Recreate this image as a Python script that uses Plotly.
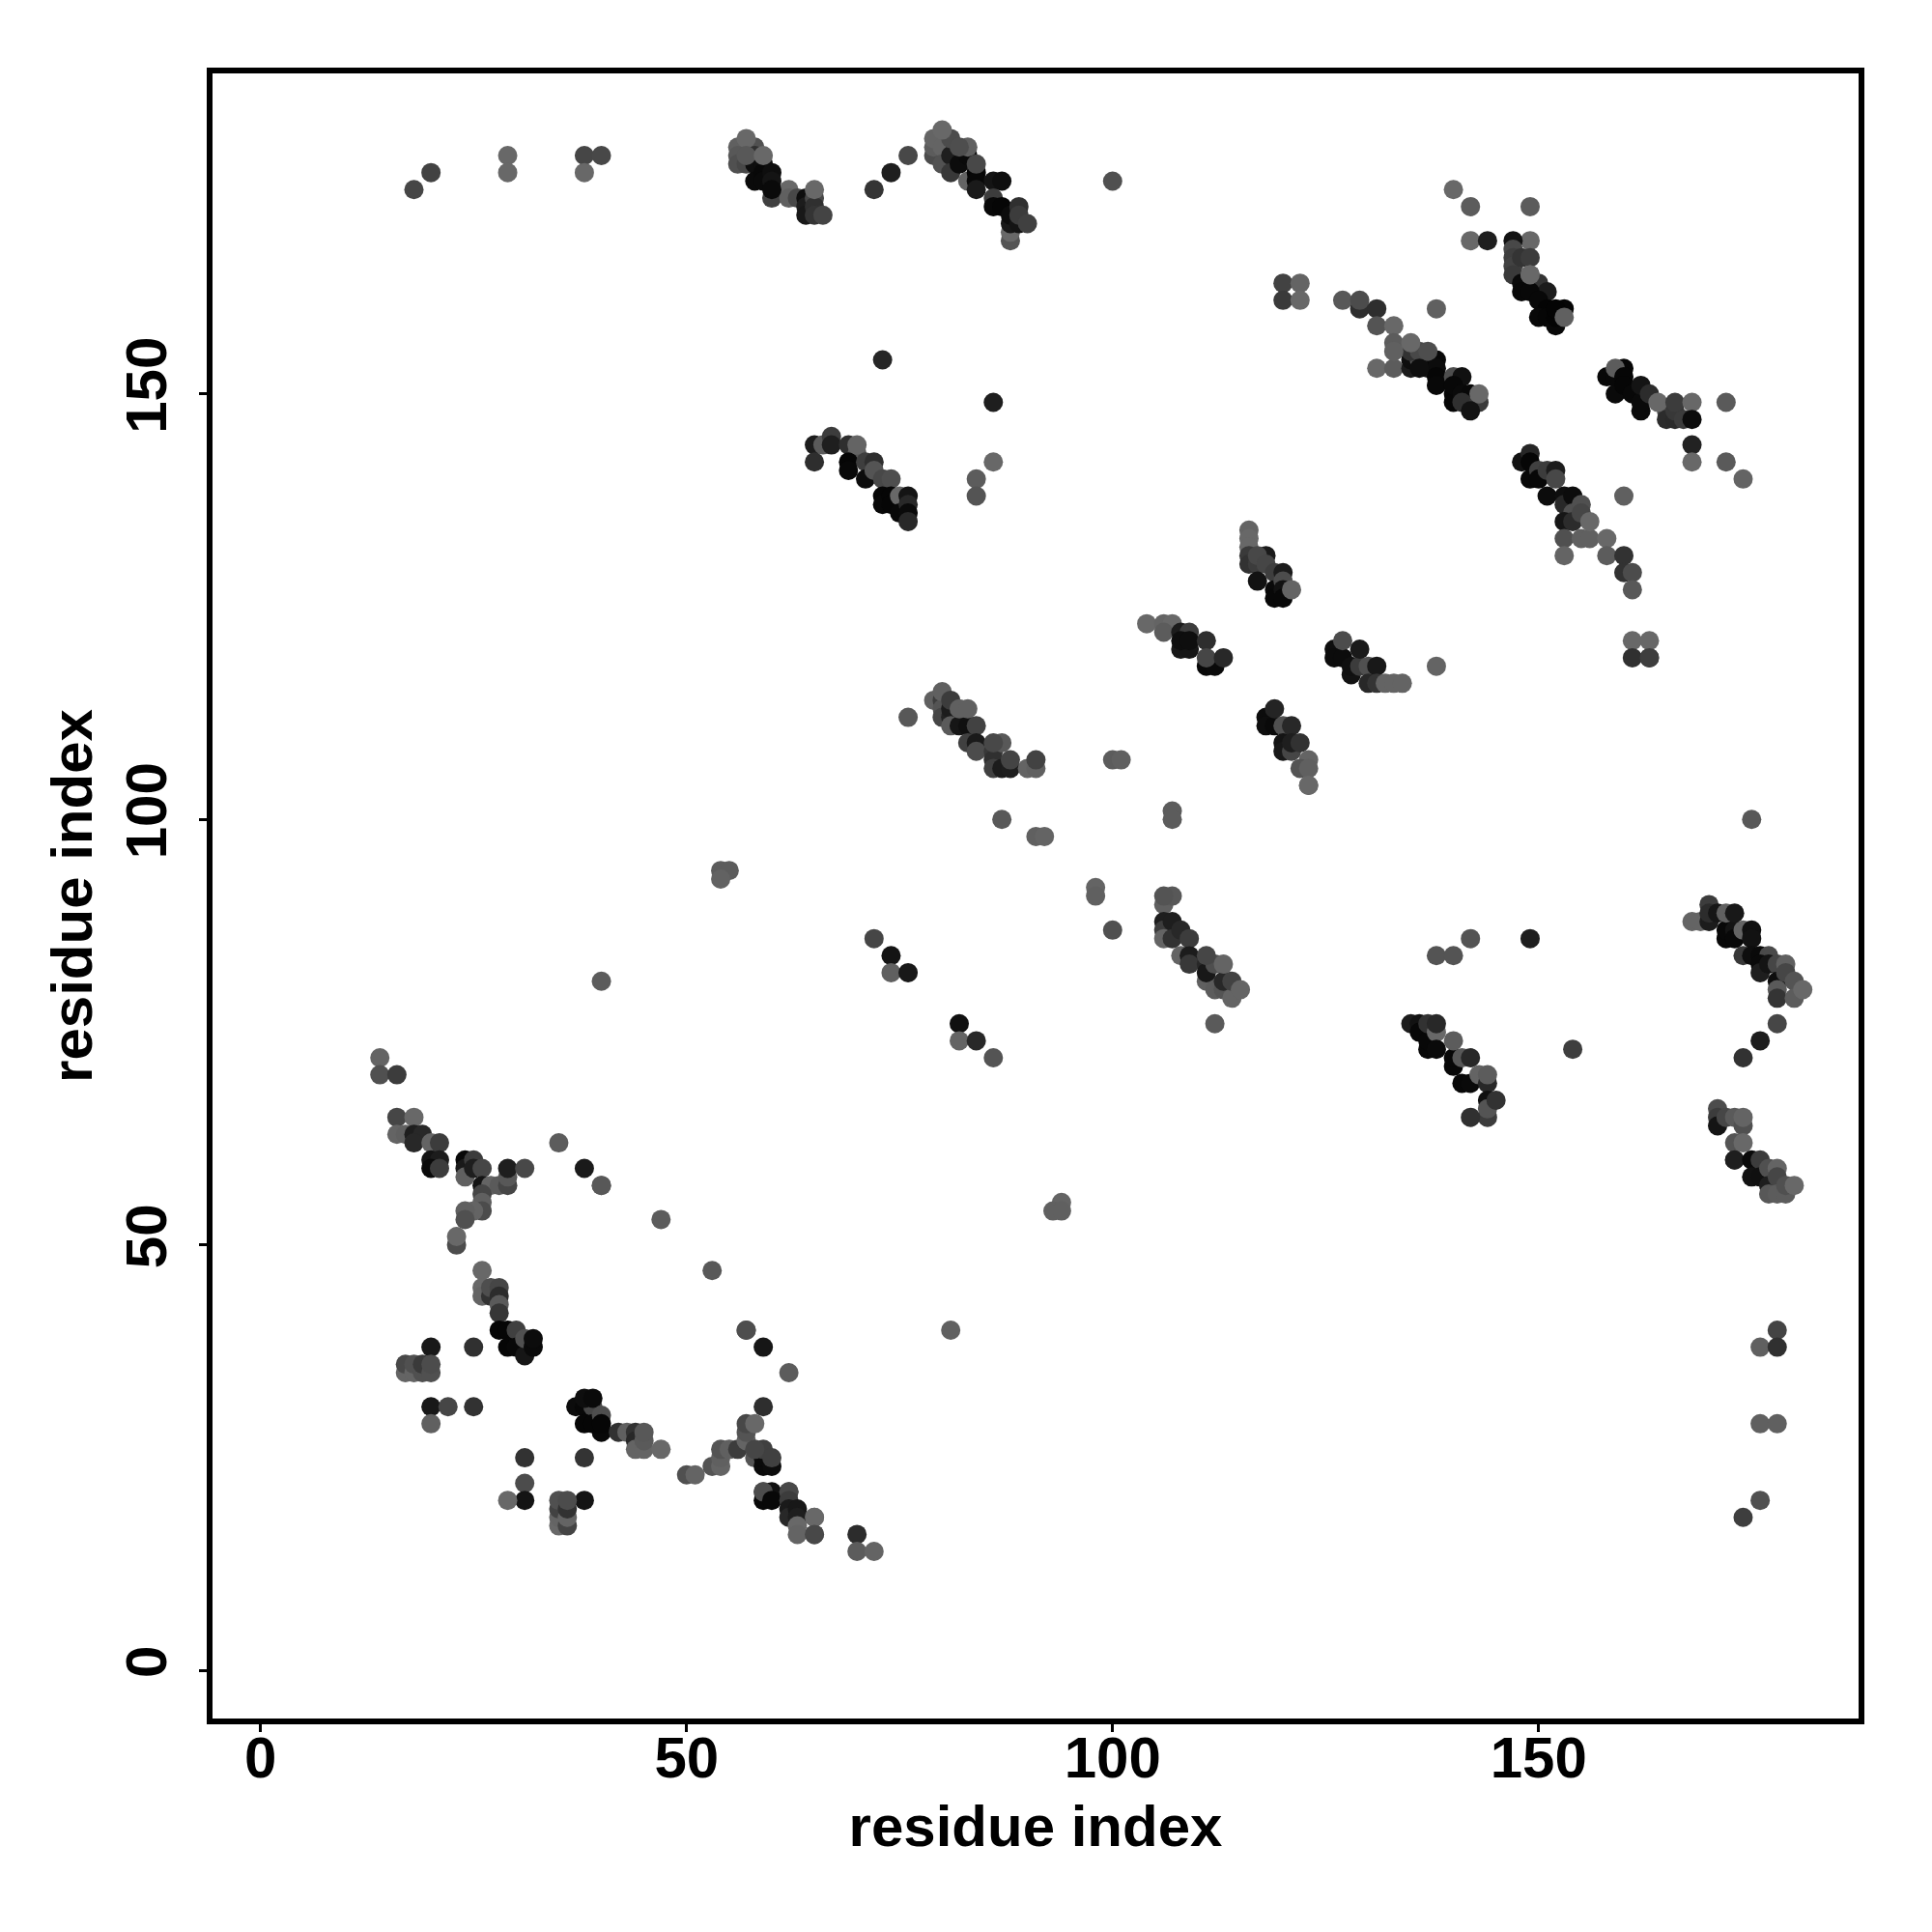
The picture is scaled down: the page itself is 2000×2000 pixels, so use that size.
import plotly.graph_objects as go

# residue i, residue j, grey level of each contact, in drawing order, per region
x_iso = [18,20,29,29,38,38,40,72,74,76,100,73,86,86,84,84,140,142,142,144,149,149,120,122,120,122,127,138,172,168,168,172,174,160,104,
         40,54,55,54,72,74,74,76,82,82,84,86,87,91,92,98,98,100,100,101,107,107,112,76,138,140,142,149,154,175,178,176,178,176,178,176,174,81,
         40,47,53,94,93,94,14,14,16,35,38,20,25,20,22,25,20,31,31,31,29,38,38,59,57,62,70,70,72,65,65,178,176,174,123,138,40,57,59,62,
         129,129,131,131,133,144]
y_iso = [174,176,178,176,178,176,178,174,176,178,175,154,149,142,140,138,174,172,168,168,172,168,163,163,161,161,161,160,149,144,142,142,140,138,123,
         81,94,94,93,86,84,82,82,76,74,74,72,100,98,98,92,91,87,107,107,101,100,76,112,84,84,86,86,73,100,40,38,38,29,29,20,18,40,
         57,53,47,55,54,54,72,70,70,62,59,38,38,31,31,31,29,25,22,20,20,25,20,38,40,35,16,14,14,18,16,76,74,72,104,118,57,40,31,21,
         160,161,160,158,158,65]
g_iso = [70,66,104,104,70,104,72,52,30,72,80,38,30,104,92,84,104,92,104,30,92,104,66,100,58,104,88,96,90,34,104,90,100,96,104,
         92,92,92,98,70,20,96,24,16,100,40,84,88,96,100,100,96,80,92,96,92,92,90,88,84,84,84,30,62,88,68,96,48,96,96,80,62,96,
         88,92,88,100,96,96,100,80,60,92,26,24,48,24,70,50,96,50,76,20,104,52,20,22,78,92,44,92,100,80,72,70,28,50,92,100,88,78,46,70,
         46,76,46,84,104,60]

x_a = [56,56,56,57,58,58,58,58,59,59,59,60,60,60,62,62,63,64,64,64,65,65,65,65,66,57,57,59,60]
y_a = [179,178,177,177,179,178,177,175,177,176,175,176,175,173,174,173,173,173,172,171,173,172,171,174,171,180,178,178,174]
g_a = [96,88,80,72,80,48,14,10,14,8,10,14,20,64,104,96,72,14,28,24,72,48,52,104,68,104,88,104,10]

x_b = [79,79,79,80,80,81,81,82,83,83,84,84,84,86,87,86,86,87,88,88,88,88,89,89,89,90,81,83,84]
y_b = [178,179,180,179,177,178,176,177,175,178,176,175,174,175,175,173,172,172,168,169,170,171,172,170,171,170,180,179,177]
g_b = [76,92,100,100,82,30,56,12,100,10,6,8,26,20,14,60,8,6,84,104,24,12,48,20,60,64,76,96,72]
x_b2 = [80,82]
y_b2 = [181,179]
g_b2 = [104,78]

x_c = [147,147,147,147,147,148,148,148,149,149,150,151,149,150,151,153,150,151,152,152,152,149,153]
y_c = [168,167,166,165,164,166,163,162,166,164,163,162,162,161,160,160,159,159,158,159,160,164,159]
g_c = [18,72,62,66,58,52,10,8,60,104,52,28,8,8,4,6,8,6,8,4,4,104,96]

x_d = [131,133,135,135,136,137,135,138,136,137,138,138,138,133,133,135,136,140,141,140,140,140,141,142,141,143,143,142]
y_d = [153,153,153,154,154,153,155,154,155,155,153,152,151,156,155,156,153,152,152,150,149,151,150,150,149,149,150,148]
g_d = [104,92,28,14,84,24,50,8,72,78,12,6,8,92,96,104,14,78,16,6,6,8,10,8,48,58,104,18]

x_e = [158,159,160,159,159,160,160,161,162,162,162,163,165,165,166,166,167,164,166,168,168]
y_e = [152,150,153,152,153,152,151,150,148,149,151,150,148,147,147,148,147,149,149,149,147]
g_e = [8,10,6,8,92,6,6,8,10,10,20,44,70,44,42,56,60,104,60,104,12]

x_f = [148,149,149,149,150,150,151,151,152,152,153,153,154,154,155,153,154,153,155,155,156,156,158,153,158,160,160,161,161,163,161,163,161,163]
y_f = [142,143,142,140,141,140,141,138,141,140,138,137,138,136,137,135,135,133,136,133,133,135,133,131,131,131,129,129,127,119,121,121,119,119]
g_f = [18,38,6,8,64,8,60,12,28,72,14,40,12,80,80,22,44,80,70,96,96,104,104,100,92,50,50,76,88,70,104,104,48,62]

x_g = [65,65,66,67,67,69,70,69,69,70,71,72,71,72,73,74,73,73,74,74,75,75,76,76,76,76]
y_g = [144,142,144,145,144,144,143,142,141,144,142,142,140,141,140,140,138,137,138,137,138,136,138,137,136,135]
g_g = [28,46,90,60,30,46,90,6,8,100,62,46,12,84,72,78,6,8,6,6,104,8,20,40,10,40]

x_h = [116,116,116,116,116,117,117,118,117,118,119,120,119,120,119,120,120,121]
y_h = [134,133,132,131,130,130,128,131,131,130,129,129,127,128,126,127,126,127]
g_h = [100,104,104,58,50,60,18,26,72,70,62,28,10,76,8,18,8,100]

x_i = [106,107,106,108,109,108,109,108,109,111,111,112,111,113]
y_i = [123,123,122,122,122,120,120,121,121,121,118,118,119,119]
g_i = [100,104,92,28,60,24,22,14,14,46,8,10,70,40]

x_j = [126,126,127,127,128,128,129,129,130,130,131,131,132,133,134]
y_j = [120,119,119,121,117,118,118,120,118,116,118,116,116,116,116]
g_j = [14,12,12,76,18,16,60,26,80,40,24,52,100,100,100]

x_k = [118,118,119,119,120,121,120,120,121,121,122,123,122,123,123]
y_k = [112,111,111,113,111,111,109,108,108,109,109,107,106,106,104]
g_k = [12,14,10,36,80,40,20,24,70,30,50,100,84,96,104]

x_l = [79,80,80,80,80,81,81,81,81,82,83,82,83,84,83,84,84,86,87,86,86,86,87,88,88,90,91,91]
y_l = [114,114,113,112,115,112,113,111,114,111,111,113,113,111,109,109,108,108,109,107,106,109,106,106,107,106,106,107]
g_l = [96,60,84,70,96,34,28,90,60,22,16,96,96,66,64,26,76,56,88,48,64,72,28,30,68,100,96,66]

x_m = [106,106,106,106,107,107,107,108,109,109,108,109,109,111,111,111,112,112,113,113,111,113,114,114,115]
y_m = [90,88,87,86,91,88,86,87,86,84,84,84,83,81,83,82,83,80,80,81,84,83,79,81,80]
g_m = [96,30,60,100,88,30,50,40,60,100,100,28,56,96,40,24,78,92,84,40,70,100,100,66,100]
x_m2 = [106]
y_m2 = [91]
g_m2 = [84]

x_n = [135,136,136,137,137,137,138,138,138,140,140,140,141,141,142,142,143,144,144,144,144,145,142]
y_n = [76,76,75,73,74,76,75,73,76,71,72,74,72,69,72,69,70,69,70,67,66,67,65]
g_n = [28,18,8,8,8,50,104,10,40,8,8,92,88,8,40,10,100,40,92,16,84,50,48]

x_o = [168,169,170,170,170,171,172,172,173,173,172,174,175,175,173,174,175,176,177,176,176,177,178,178,179,178,178,179,180,180,181]
y_o = [88,88,88,90,89,89,86,87,87,86,89,87,87,86,89,84,84,84,84,83,82,83,83,81,83,80,79,82,81,79,80]
g_o = [100,100,28,60,44,22,8,8,20,8,96,100,16,18,24,56,14,10,74,10,30,20,70,14,96,90,52,70,84,92,104]

x_p = [171,171,171,172,173,173,174,173,174,173,174,175,176,175,176,177,178,177,178,177,178,179,179,180]
y_p = [66,65,64,65,62,65,64,60,65,60,62,60,60,58,58,59,59,57,58,56,56,56,57,57]
g_p = [76,60,20,70,84,90,80,72,100,30,104,10,60,18,16,80,100,30,70,88,92,92,80,104]

x_q = [16,18,16,17,18,19,18,20,21,20,21,20,21]
y_q = [65,65,63,63,63,63,62,62,62,60,60,59,59]
g_q = [70,104,100,96,30,40,40,100,60,20,28,10,60]

x_r = [24,24,24,25,25,26,26,27,28,29,29,29,26,26,26,25,24,24,23,23,31]
y_r = [60,59,58,60,59,59,57,57,57,57,58,59,56,55,54,54,54,53,50,51,59]
g_r = [8,26,96,60,30,70,20,100,90,70,88,30,70,96,76,100,96,80,76,104,72]

x_s = [26,26,26,27,27,28,28,28,28,28,29,30,29,30,31,31,32,32]
y_s = [47,45,44,44,45,45,44,43,42,40,40,40,38,38,37,39,38,39]
g_s = [104,104,100,50,78,70,44,90,54,6,6,64,6,8,22,80,10,12]

x_t = [17,17,18,18,19,19,20,20]
y_t = [35,36,35,36,35,36,35,36]
g_t = [100,72,100,80,80,58,80,76]

x_u = [37,38,39,38,38,39,40,39,40,40]
y_u = [31,31,31,29,32,32,28,29,30,29]
g_u = [12,8,70,6,14,10,8,6,78,6]

x_v = [42,43,44,44,44,45,45,45,47]
y_v = [28,28,28,27,26,26,27,28,26]
g_v = [50,96,50,40,100,100,90,88,104]

x_w = [35,35,35,35,36,36,36,36]
y_w = [17,18,19,20,17,18,19,20]
g_w = [104,100,66,80,68,100,50,76]

x_y = [50,51,53,54,54,54,55,56,57,57,57,58,58,59,59,59,60,60,58,59]
y_y = [23,23,24,24,25,26,26,26,27,28,29,29,25,24,25,26,24,25,26,21]
g_y = [80,100,84,100,96,84,96,60,100,84,72,104,84,10,10,64,12,64,70,80]

x_z = [60,59,59,60,62,62,62,62,63,63,63,63,65,65]
y_z = [21,20,21,20,21,20,19,18,19,18,17,16,18,16]
g_z = [16,8,76,8,72,60,26,40,24,30,104,100,104,72]

x_all = (x_iso + x_a + x_b + x_b2 + x_c + x_d + x_e + x_f + x_g + x_h + x_i + x_j + x_k + x_l + x_m + x_m2 +
         x_n + x_o + x_p + x_q + x_r + x_s + x_t + x_u + x_v + x_w + x_y + x_z)
y_all = (y_iso + y_a + y_b + y_b2 + y_c + y_d + y_e + y_f + y_g + y_h + y_i + y_j + y_k + y_l + y_m + y_m2 +
         y_n + y_o + y_p + y_q + y_r + y_s + y_t + y_u + y_v + y_w + y_y + y_z)
g_all = (g_iso + g_a + g_b + g_b2 + g_c + g_d + g_e + g_f + g_g + g_h + g_i + g_j + g_k + g_l + g_m + g_m2 +
         g_n + g_o + g_p + g_q + g_r + g_s + g_t + g_u + g_v + g_w + g_y + g_z)
n = min(len(x_all), len(y_all), len(g_all))

tick_vals = [0, 50, 100, 150]
FONT = "Liberation Sans"

fig = go.Figure(go.Scatter(
    x=x_all[:n], y=y_all[:n], mode="markers",
    marker=dict(size=20, color=[f"rgb({g},{g},{g})" for g in g_all[:n]], line=dict(width=0)),
    showlegend=False, cliponaxis=True))

axis = dict(tickvals=tick_vals, ticktext=[str(v) for v in tick_vals], ticks="outside", ticklen=8,
            tickwidth=3, tickcolor="black", showgrid=False, zeroline=False, showline=True,
            linecolor="black", linewidth=6, mirror=True,
            tickfont=dict(family=FONT, size=60, color="black", weight="bold"))
fig.update_layout(
    width=2000, height=2000, paper_bgcolor="white", plot_bgcolor="white",
    margin=dict(l=212, r=84, t=68, b=229, autoexpand=False),
    xaxis=dict(axis, range=[-5.64, 187.55], ticklabelstandoff=-25,
               title=dict(text="residue index", standoff=19,
                          font=dict(family=FONT, size=60, color="black", weight="bold"))),
    yaxis=dict(axis, range=[-5.63, 187.65], tickangle=-90, ticklabelstandoff=10,
               title=dict(text="residue index", standoff=5,
                          font=dict(family=FONT, size=60, color="black", weight="bold"))),
)
fig.write_html("out.html")
